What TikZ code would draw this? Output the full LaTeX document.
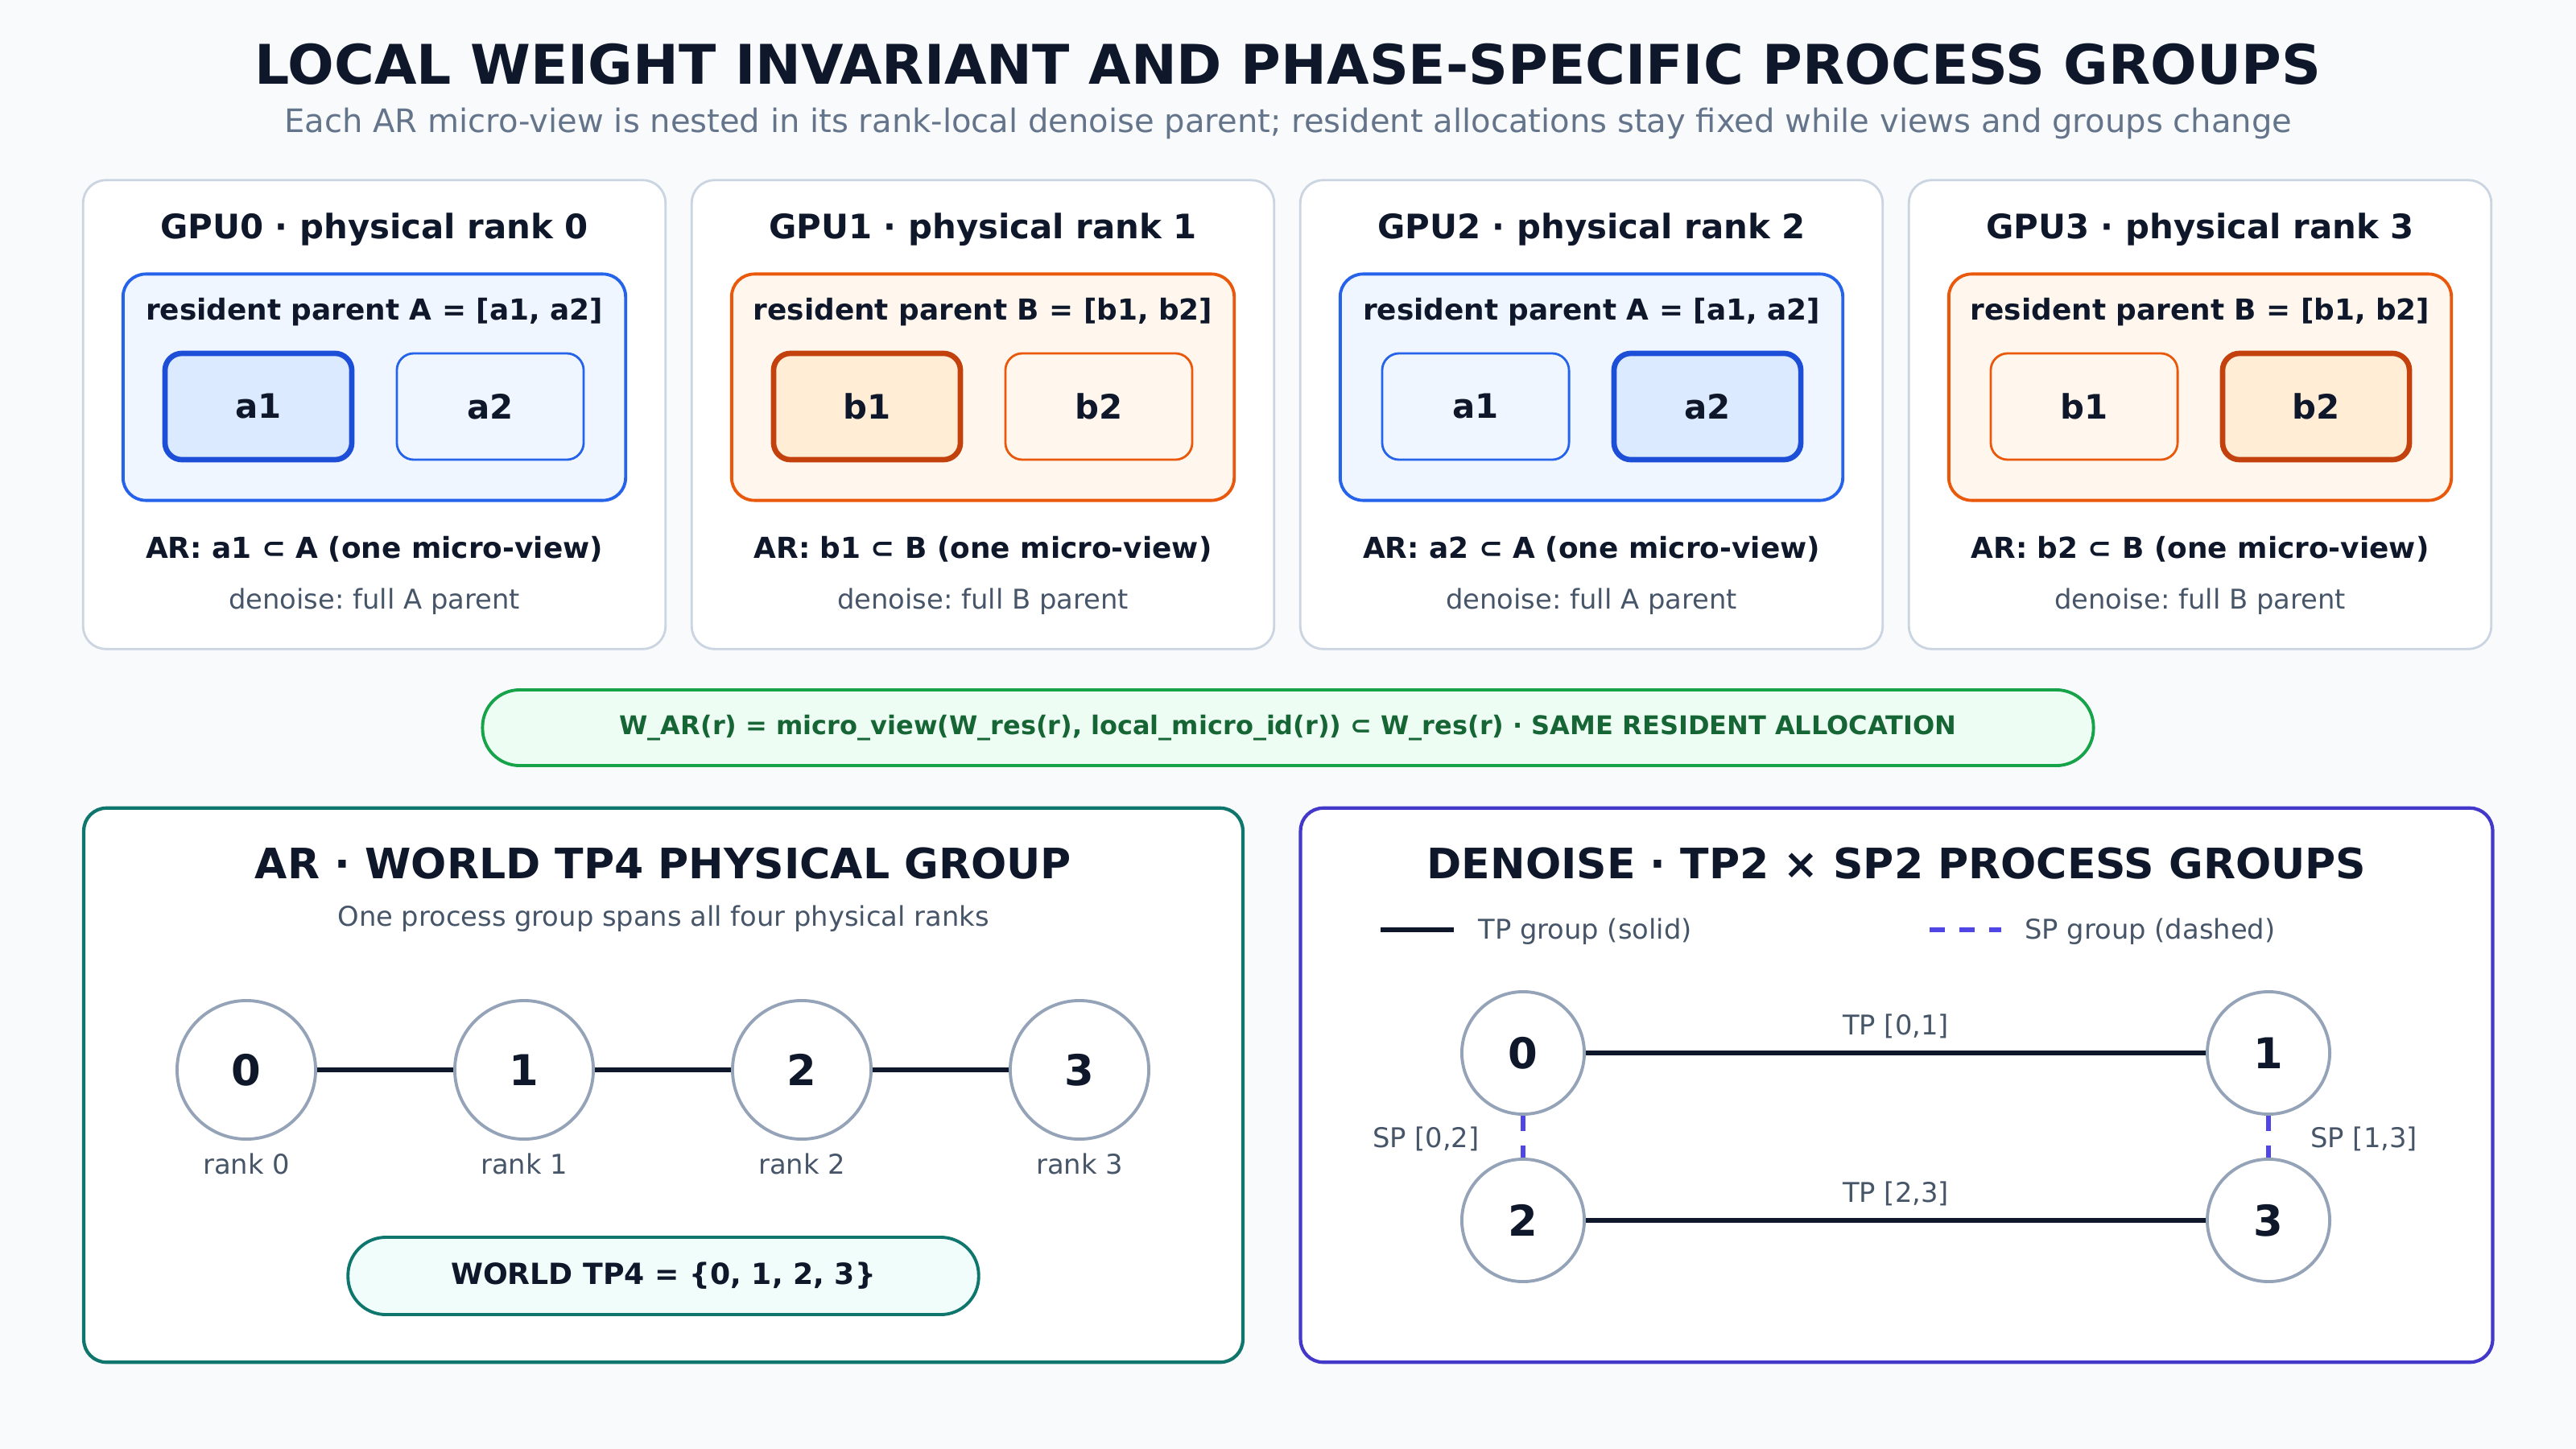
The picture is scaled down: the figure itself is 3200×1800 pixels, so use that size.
\documentclass[tikz,border=0pt]{standalone}
\usepackage{fontspec}
\setmainfont{DejaVu Sans}
\frenchspacing

\definecolor{bgcol}{HTML}{F8FAFC}
\definecolor{ink}{HTML}{0F172A}
\definecolor{slate}{HTML}{475569}
\definecolor{mute}{HTML}{64748B}
\definecolor{edge}{HTML}{CBD5E1}
\definecolor{ringcol}{HTML}{94A3B8}
\definecolor{blueline}{HTML}{2563EB}
\definecolor{bluebg}{HTML}{EFF6FF}
\definecolor{bluesel}{HTML}{1D4ED8}
\definecolor{blueselbg}{HTML}{DBEAFE}
\definecolor{orangeline}{HTML}{EA580C}
\definecolor{orangebg}{HTML}{FFF7ED}
\definecolor{orangesel}{HTML}{C2410C}
\definecolor{orangeselbg}{HTML}{FFEDD5}
\definecolor{greenline}{HTML}{16A34A}
\definecolor{greenbg}{HTML}{EEFDF3}
\definecolor{greentext}{HTML}{166534}
\definecolor{tealline}{HTML}{0F766E}
\definecolor{tealbg}{HTML}{F0FDFA}
\definecolor{indigoline}{HTML}{4338CA}
\definecolor{spcol}{HTML}{4F46E5}

\begin{document}
\begin{tikzpicture}[x=0.01cm,y=-0.01cm,
    gpubox/.style={draw=edge,line width=0.8pt,fill=white,rounded corners=8pt,
      minimum width=7.23cm,minimum height=5.82cm},
    parentbox/.style={draw=#1line,fill=#1bg,line width=1.1pt,rounded corners=8pt,
      minimum width=6.24cm,minimum height=2.81cm},
    viewbox/.style={draw=#1line,fill=#1bg,line width=0.8pt,rounded corners=6pt,
      minimum width=2.32cm,minimum height=1.32cm,text=ink,
      font=\fontsize{11.9}{14}\selectfont\bfseries},
    selbox/.style={viewbox=#1,draw=#1sel,fill=#1selbg,line width=1.9pt},
    gputitle/.style={text=ink,font=\fontsize{11.9}{14}\selectfont\bfseries},
    parentlabel/.style={text=ink,font=\fontsize{10.2}{12}\selectfont\bfseries},
    arlabel/.style={text=ink,font=\fontsize{10.2}{12}\selectfont\bfseries},
    note/.style={text=slate,font=\fontsize{9.6}{11}\selectfont},
    panel/.style={draw=#1,fill=white,line width=1.2pt,rounded corners=8pt,
      minimum width=14.39cm,minimum height=6.88cm},
    paneltitle/.style={text=ink,font=\fontsize{14.8}{17}\selectfont\bfseries},
    rank/.style={circle,draw=ringcol,fill=white,line width=1.1pt,text=ink,
      font=\fontsize{15}{18}\selectfont\bfseries},
    small/.style={text=slate,font=\fontsize{9.6}{11}\selectfont},
    tpline/.style={draw=ink,line width=1.8pt},
    spline/.style={draw=spcol,line width=1.6pt,dash pattern=on 5.5pt off 5pt},
  ]
  % canvas
  \fill[bgcol] (0,0) rectangle (3200,1800);
  \useasboundingbox (0,0) rectangle (3200,1800);

  % heading
  \node[text=ink,font=\fontsize{19.3}{23}\selectfont\bfseries] (title) at (1600,80)
    {LOCAL WEIGHT INVARIANT AND PHASE-SPECIFIC PROCESS GROUPS};
  \node[text=mute,font=\fontsize{11.4}{13}\selectfont] (subtitle) at (1600,153)
    {Each AR micro-view is nested in its rank-local denoise parent; resident allocations stay fixed while views and groups change};

  % GPU0
  \node[gpubox] (gpu0) at (465,515) {};
  \node[gputitle] (gpu0title) at (465,285) {GPU0 · physical rank 0};
  \node[parentbox=blue] (par0) at (465,481) {};
  \node[parentlabel] (par0label) at (465,388) {resident parent A = [a1, a2]};
  \node[selbox=blue] (view01) at (321,505) {a1};
  \node[viewbox=blue] (view02) at (609,505) {a2};
  \node[arlabel] (ar0) at (465,682) {AR: a1 ⊂ A (one micro-view)};
  \node[note] (dn0) at (465,747) {denoise: full A parent};

  % GPU1
  \node[gpubox] (gpu1) at (1221,515) {};
  \node[gputitle] (gpu1title) at (1221,285) {GPU1 · physical rank 1};
  \node[parentbox=orange] (par1) at (1221,481) {};
  \node[parentlabel] (par1label) at (1221,388) {resident parent B = [b1, b2]};
  \node[selbox=orange] (view11) at (1077,505) {b1};
  \node[viewbox=orange] (view12) at (1365,505) {b2};
  \node[arlabel] (ar1) at (1221,682) {AR: b1 ⊂ B (one micro-view)};
  \node[note] (dn1) at (1221,747) {denoise: full B parent};

  % GPU2
  \node[gpubox] (gpu2) at (1977,515) {};
  \node[gputitle] (gpu2title) at (1977,285) {GPU2 · physical rank 2};
  \node[parentbox=blue] (par2) at (1977,481) {};
  \node[parentlabel] (par2label) at (1977,388) {resident parent A = [a1, a2]};
  \node[viewbox=blue] (view21) at (1833,505) {a1};
  \node[selbox=blue] (view22) at (2121,505) {a2};
  \node[arlabel] (ar2) at (1977,682) {AR: a2 ⊂ A (one micro-view)};
  \node[note] (dn2) at (1977,747) {denoise: full A parent};

  % GPU3
  \node[gpubox] (gpu3) at (2733,515) {};
  \node[gputitle] (gpu3title) at (2733,285) {GPU3 · physical rank 3};
  \node[parentbox=orange] (par3) at (2733,481) {};
  \node[parentlabel] (par3label) at (2733,388) {resident parent B = [b1, b2]};
  \node[viewbox=orange] (view31) at (2589,505) {b1};
  \node[selbox=orange] (view32) at (2877,505) {b2};
  \node[arlabel] (ar3) at (2733,682) {AR: b2 ⊂ B (one micro-view)};
  \node[note] (dn3) at (2733,747) {denoise: full B parent};

  % invariant
  \node[draw=greenline,fill=greenbg,line width=1.1pt,rounded corners=0.46cm,
    minimum width=20cm,minimum height=0.94cm,text=greentext,
    font=\fontsize{9.1}{11}\selectfont\bfseries] (invariant) at (1600,904)
    {W\_AR(r) = micro\_view(W\_res(r), local\_micro\_id(r)) ⊂ W\_res(r) · SAME RESIDENT ALLOCATION};

  % AR panel
  \node[panel=tealline] (arpanel) at (824,1348) {};
  \node[paneltitle] (artitle) at (824,1073) {AR · WORLD TP4 PHYSICAL GROUP};
  \node[small] (arsub) at (824,1141) {One process group spans all four physical ranks};
  \node[rank,minimum size=1.72cm] (w0) at (306,1329) {0};
  \node[rank,minimum size=1.72cm] (w1) at (651,1329) {1};
  \node[rank,minimum size=1.72cm] (w2) at (996,1329) {2};
  \node[rank,minimum size=1.72cm] (w3) at (1341,1329) {3};
  \draw[tpline] (w0) -- (w1);
  \draw[tpline] (w1) -- (w2);
  \draw[tpline] (w2) -- (w3);
  \node[small] (w0label) at (306,1446) {rank 0};
  \node[small] (w1label) at (651,1446) {rank 1};
  \node[small] (w2label) at (996,1446) {rank 2};
  \node[small] (w3label) at (1341,1446) {rank 3};
  \node[draw=tealline,fill=tealbg,line width=1.1pt,rounded corners=0.47cm,
    minimum width=7.83cm,minimum height=0.96cm,text=ink,
    font=\fontsize{10.3}{12}\selectfont\bfseries] (world) at (824,1585)
    {WORLD TP4 = \{0, 1, 2, 3\}};

  % denoise panel
  \node[panel=indigoline,minimum width=14.8cm] (dnpanel) at (2356,1348) {};
  \node[paneltitle] (dntitle) at (2356,1073) {DENOISE · TP2 × SP2 PROCESS GROUPS};
  \coordinate (tpkeyA) at (1715,1155);
  \coordinate (tpkeyB) at (1806,1155);
  \draw[tpline] (tpkeyA) -- (tpkeyB);
  \node[small,anchor=west] (tpkey) at (1824,1157) {TP group (solid)};
  \coordinate (spkeyA) at (2397,1155);
  \coordinate (spkeyB) at (2486,1155);
  \draw[spline] (spkeyA) -- (spkeyB);
  \node[small,anchor=west] (spkey) at (2503,1157) {SP group (dashed)};
  \node[rank,minimum size=1.52cm] (d0) at (1892,1308) {0};
  \node[rank,minimum size=1.52cm] (d1) at (2818,1308) {1};
  \node[rank,minimum size=1.52cm] (d2) at (1892,1516) {2};
  \node[rank,minimum size=1.52cm] (d3) at (2818,1516) {3};
  \draw[tpline] (d0) -- (d1);
  \draw[tpline] (d2) -- (d3);
  \draw[spline] (d0) -- (d2);
  \draw[spline] (d1) -- (d3);
  \node[small] (tp01) at (2355,1275) {TP [0,1]};
  \node[small] (tp23) at (2355,1483) {TP [2,3]};
  \node[small,anchor=east] (sp02) at (1850,1415) {SP [0,2]};
  \node[small,anchor=west] (sp13) at (2858,1415) {SP [1,3]};
\end{tikzpicture}
\end{document}
